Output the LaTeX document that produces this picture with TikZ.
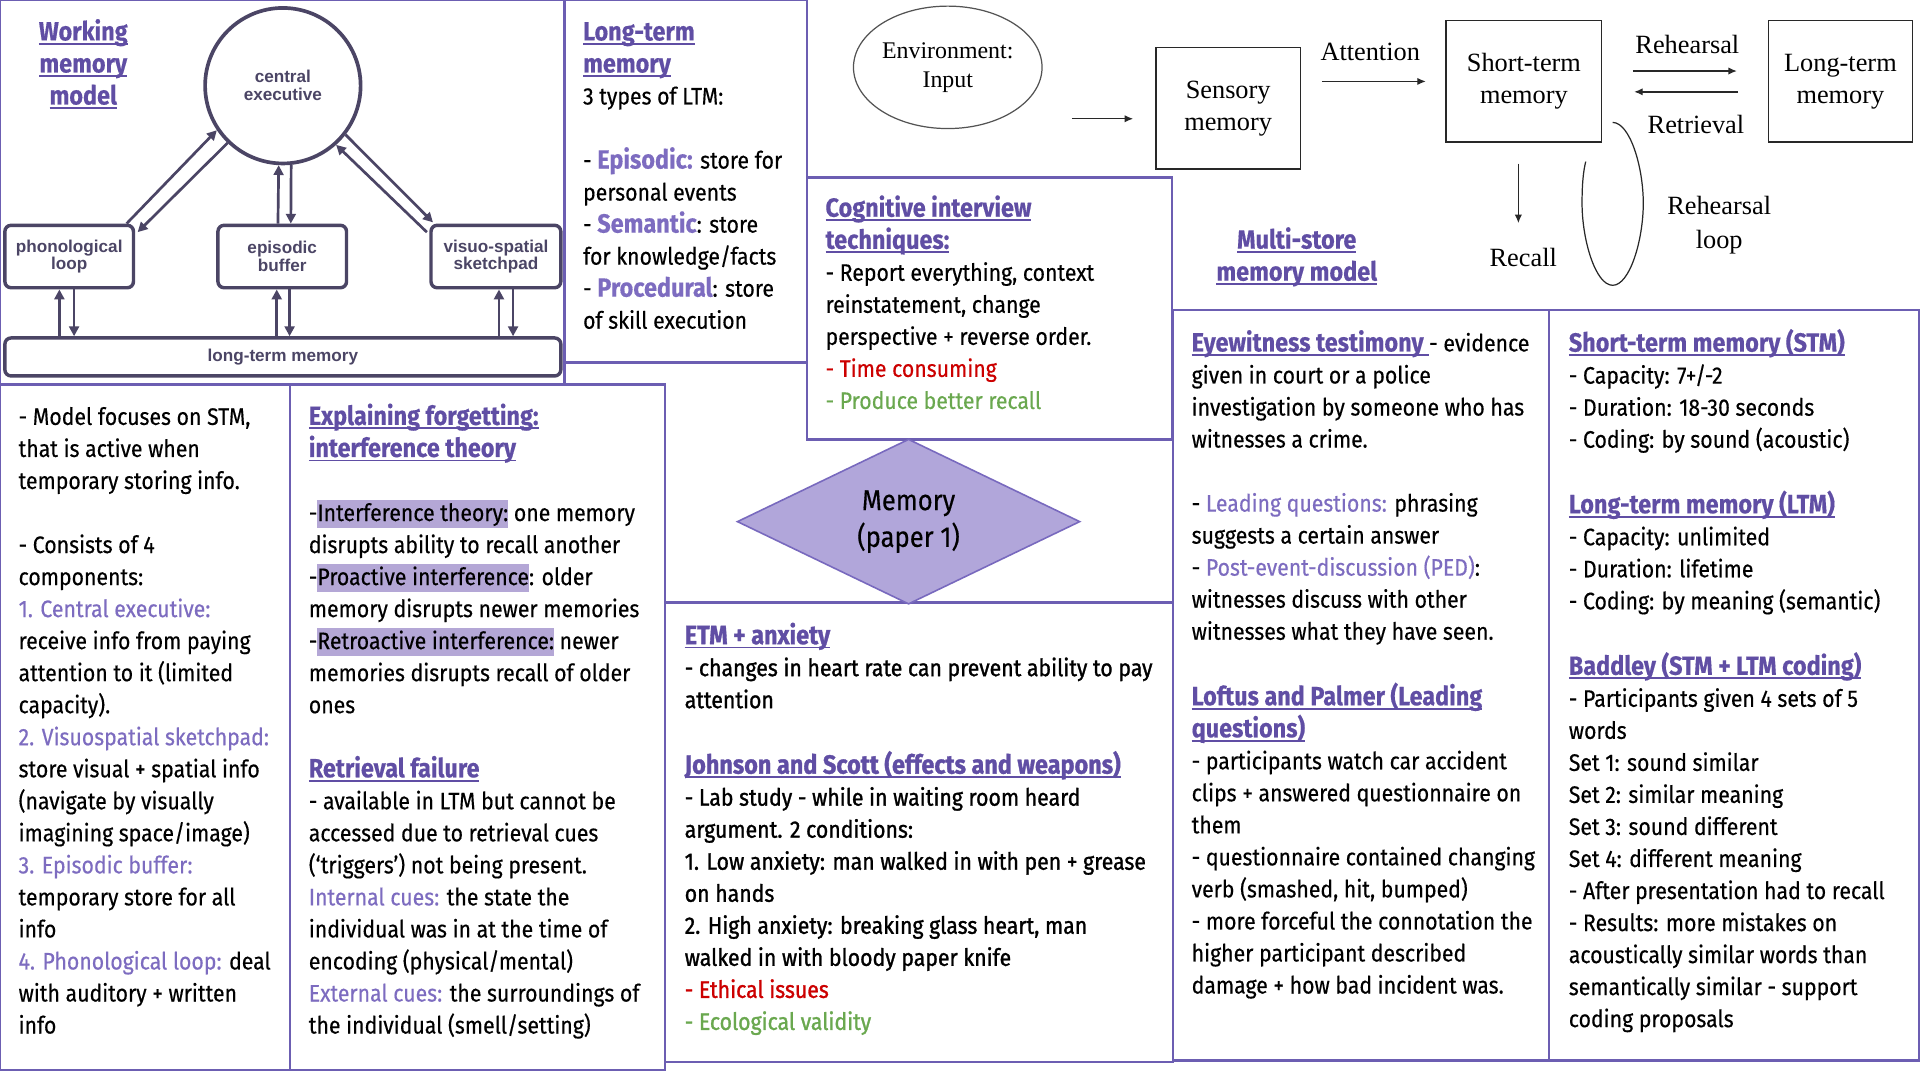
\documentclass[tikz,border=0pt]{standalone}
\usepackage{fontspec}
\setmainfont{Fira Sans}[FakeStretch=0.89,FakeBold=0.4]
\newfontfamily\timesfont{Liberation Serif}
\newfontfamily\wmfont{Liberation Sans}
\newfontfamily\etmfont{Fira Sans}[FakeStretch=0.89,FakeBold=1.2]
\usetikzlibrary{shapes.geometric,arrows.meta,calc}

\definecolor{framec}{RGB}{108,94,178}
\definecolor{headc}{RGB}{96,78,164}
\definecolor{itemc}{RGB}{125,108,192}
\definecolor{hlc}{RGB}{180,167,214}
\definecolor{diafill}{RGB}{177,166,218}
\definecolor{diac}{RGB}{120,105,190}
\definecolor{badc}{RGB}{204,0,0}
\definecolor{goodc}{RGB}{106,168,79}
\definecolor{wmc}{RGB}{75,69,101}
\definecolor{msc}{RGB}{40,40,40}

\newsavebox\ulbox
\newcommand\ulhead[1]{\sbox\ulbox{#1}\rlap{\rule[-3.5pt]{\wd\ulbox}{1.4pt}}\usebox\ulbox}
\newcommand\hdline[1]{{\fontsize{21.5}{26.16}\selectfont\bfseries\color{headc}\ulhead{#1}}}
\newcommand\itm[1]{\textcolor{itemc}{#1}}
\newcommand\itmb[1]{\textcolor{itemc}{\fontsize{21.5}{26.16}\selectfont\bfseries #1}}
\newcommand\badtxt[1]{\textcolor{badc}{#1}}
\newcommand\goodtxt[1]{\textcolor{goodc}{#1}}
\newcommand\hilite[1]{{\setlength{\fboxsep}{0pt}\colorbox{hlc}{\rule[-5.5pt]{0pt}{23pt}#1}}}

\begin{document}
\begin{tikzpicture}[x=1pt,y=1pt,yscale=-1,xscale=1,
    frame/.style={draw=framec, line width=1.8pt},
    boxtext/.style={anchor=north west, inner sep=0pt, align=left, font=\fontsize{19.5}{26.16}\selectfont},
    etmtext/.style={boxtext, font=\etmfont\fontsize{19.5}{26.16}\selectfont},
    wmbox/.style={draw=wmc, line width=2.8pt, rounded corners=5pt, inner sep=0pt, align=center, text=wmc, font=\wmfont\bfseries\fontsize{14}{14.5}\selectfont},
    wmarrow/.style={draw=wmc, line width=2.2pt, -{Triangle[length=8pt,width=8pt]}},
    msbox/.style={draw=msc, line width=1.1pt, inner sep=0pt, align=center, minimum height=99pt, font=\timesfont\fontsize{21.5}{26}\selectfont},
    mslabel/.style={inner sep=0pt, align=center, font=\timesfont\fontsize{21.5}{28}\selectfont},
    msarrow/.style={draw=msc, line width=1.1pt, -{Latex[length=7pt,width=6pt]}},
    memdia/.style={diamond, draw=diac, fill=diafill, line width=1.3pt, minimum width=280pt, minimum height=130pt, inner sep=0pt, align=center, font=\fontsize{23.5}{30}\selectfont}]

\useasboundingbox (0,0) rectangle (1568,882);
\fill[white] (0,0) rectangle (1568,882);

%Shape: Rectangle [frames]
\draw[frame] (0,0) rectangle (461,314);
\draw[frame] (461,0) rectangle (659,296);
\draw[frame] (659,145) rectangle (957,359);
\draw[frame] (0,314) rectangle (237,874);
\draw[frame] (237,314) rectangle (543,874);
\draw[frame] (543,492) rectangle (958,867);
\draw[frame] (958,253) rectangle (1265,866);
\draw[frame] (1265,253) rectangle (1567,866);

% Working memory model
\node[anchor=north, inner sep=0pt, align=center, font=\fontsize{19.5}{26.16}\selectfont] (wmtitle) at (68,14.5) {\strut\hdline{Working}\\\hdline{memory}\\\hdline{model}};
\node[wmbox, circle, line width=3pt, minimum size=127pt] (ce) at (231,70) {central\\executive};
\node[wmbox, minimum width=105pt, minimum height=51pt] (pl) at (56.5,209.5) {phonological\\loop};
\node[wmbox, minimum width=105pt, minimum height=51pt] (eb) at (230.5,209.5) {episodic\\buffer};
\node[wmbox, minimum width=106pt, minimum height=51pt] (vs) at (405,209.5) {visuo-spatial\\sketchpad};
\node[wmbox, minimum width=454pt, minimum height=31pt] (wmltm) at (231,291.5) {long-term memory};

\draw[wmarrow] ($(pl.north east)+(-7,0)$) -- (ce.214);
\draw[wmarrow] (ce.226) -- ($(pl.north east)+(2,7)$);
\draw[wmarrow] ([xshift=-3.5pt]eb.north) -- (ce.267);
\draw[wmarrow] (ce.276) -- ([xshift=7pt]eb.north);
\draw[wmarrow] (ce.322) -- ($(vs.north west)+(3,-1)$);
\draw[wmarrow] ($(vs.north west)+(-2,7)$) -- (ce.312);
\draw[wmarrow] ([xshift=-8pt]pl.south |- wmltm.north) -- ([xshift=-8pt]pl.south);
\draw[wmarrow] ([xshift=4pt]pl.south) -- ([xshift=4pt]pl.south |- wmltm.north);
\draw[wmarrow] ([xshift=-4.5pt]eb.south |- wmltm.north) -- ([xshift=-4.5pt]eb.south);
\draw[wmarrow] ([xshift=6pt]eb.south) -- ([xshift=6pt]eb.south |- wmltm.north);
\draw[wmarrow] ([xshift=2.5pt]vs.south |- wmltm.north) -- ([xshift=2.5pt]vs.south);
\draw[wmarrow] ([xshift=14pt]vs.south) -- ([xshift=14pt]vs.south |- wmltm.north);

% Text Node
\node[boxtext] (ltmtxt) at (476,14.5) {\strut\hdline{Long-term}\\
\hdline{memory}\\
3 types of LTM:\\ \strut\\
- \itmb{Episodic:} store for\\
personal events\\
- \itmb{Semantic}: store\\
for knowledge/facts\\
- \itmb{Procedural}: store\\
of skill execution};

% Multi-store memory model
\node[ellipse, draw=msc!80, line width=1pt, minimum width=154pt, minimum height=100pt, inner sep=0pt, align=center, font=\timesfont\fontsize{19.5}{24}\selectfont] (env) at (774,55) {Environment:\\Input};
\node[msbox, minimum width=118pt] (sm) at (1003,88.5) {Sensory\\memory};
\node[msbox, minimum width=127pt] (stm) at (1244.5,66.5) {Short-term\\memory};
\node[msbox, minimum width=118pt] (lt) at (1503,66.5) {Long-term\\memory};
\node[mslabel] (attn) at (1119,42) {Attention};
\node[mslabel] (reh) at (1378,36) {Rehearsal};
\node[mslabel] (ret) at (1385,102) {Retrieval};
\node[mslabel] (recall) at (1244,210) {Recall};
\node[mslabel] (loop) at (1404,184) {Rehearsal\\loop};
\node[anchor=north, inner sep=0pt, align=center, font=\fontsize{19.5}{26.16}\selectfont] (mstitle) at (1059,184.5) {\strut\hdline{Multi-store}\\\hdline{memory model}};

\draw[msarrow] ($(sm.west)+(-68,8.5)$) -- ($(sm.west)+(-18,8.5)$);
\draw[msarrow] ([xshift=17pt]sm.east |- stm.west) -- ([xshift=-16pt]stm.west);
\draw[msarrow] ($(stm.east)+(25,-8.5)$) -- ($(lt.west)+(-25,-8.5)$);
\draw[msarrow] ($(lt.west)+(-24,8.5)$) -- ($(stm.east)+(26,8.5)$);
\draw[msarrow, shorten <=17pt, shorten >=20pt] ([xshift=-4.5pt]stm.south) -- ([xshift=-4pt]recall.north);
%Shape: Rehearsal loop
\draw[msc, line width=1pt] (1317,100) .. controls (1331,100) and (1342,136) .. (1342,166) .. controls (1342,196) and (1331,233) .. (1317,233) .. controls (1303,233) and (1292,196) .. (1292,166) .. controls (1292,150) and (1293,140) .. (1295,132);

% Text Node
\node[boxtext] (cogtxt) at (674,158.5) {\strut\hdline{Cognitive interview}\\
\hdline{techniques:}\\
- Report everything, context\\
reinstatement, change\\
perspective + reverse order.\\
\badtxt{- Time consuming}\\
\goodtxt{- Produce better recall}};

% Diamond
\node[memdia] (mem) at (742,426) {Memory\\(paper 1)};

% Text Node
\node[boxtext] (modeltxt) at (15,328.5) {\strut - Model focuses on STM,\\
that is active when\\
temporary storing info.\\ \strut\\
- Consists of 4\\
components:\\
\itm{1. Central executive:}\\
receive info from paying\\
attention to it (limited\\
capacity).\\
\itm{2. Visuospatial sketchpad:}\\
store visual + spatial info\\
(navigate by visually\\
imagining space/image)\\
\itm{3. Episodic buffer:}\\
temporary store for all\\
info\\
\itm{4. Phonological loop:} deal\\
with auditory + written\\
info};

% Text Node
\node[boxtext] (forgettxt) at (252,328.5) {\strut\hdline{Explaining forgetting:}\\
\hdline{interference theory}\\ \strut\\
-\hilite{Interference theory:} one memory\\
disrupts ability to recall another\\
-\hilite{Proactive interference}: older\\
memory disrupts newer memories\\
-\hilite{Retroactive interference:} newer\\
memories disrupts recall of older\\
ones\\ \strut\\
\hdline{Retrieval failure}\\
- available in LTM but cannot be\\
accessed due to retrieval cues\\
(‘triggers’) not being present.\\
\itm{Internal cues:} the state the\\
individual was in at the time of\\
encoding (physical/mental)\\
\itm{External cues:} the surroundings of\\
the individual (smell/setting)};

% Text Node
\node[etmtext] (etmtxt) at (559,507.5) {\strut\hdline{ETM + anxiety}\\
- changes in heart rate can prevent ability to pay\\
attention\\ \strut\\
\hdline{Johnson and Scott (effects and weapons)}\\
- Lab study - while in waiting room heard\\
argument. 2 conditions:\\
1. Low anxiety: man walked in with pen + grease\\
on hands\\
2. High anxiety: breaking glass heart, man\\
walked in with bloody paper knife\\
\badtxt{- Ethical issues}\\
\goodtxt{- Ecological validity}};

% Text Node
\node[boxtext] (eyetxt) at (973,268.5) {\strut\hdline{Eyewitness testimony\ }- evidence\\
given in court or a police\\
investigation by someone who has\\
witnesses a crime.\\ \strut\\
- \itm{Leading questions:} phrasing\\
suggests a certain answer\\
- \itm{Post-event-discussion (PED)}:\\
witnesses discuss with other\\
witnesses what they have seen.\\ \strut\\
\hdline{Loftus and Palmer (Leading}\\
\hdline{questions)}\\
- participants watch car accident\\
clips + answered questionnaire on\\
them\\
- questionnaire contained changing\\
verb (smashed, hit, bumped)\\
- more forceful the connotation the\\
higher participant described\\
damage + how bad incident was.};

% Text Node
\node[boxtext] (stmtxt) at (1281,268.5) {\strut\hdline{Short-term memory (STM)}\\
- Capacity: 7+/-2\\
- Duration: 18-30 seconds\\
- Coding: by sound (acoustic)\\ \strut\\
\hdline{Long-term memory (LTM)}\\
- Capacity: unlimited\\
- Duration: lifetime\\
- Coding: by meaning (semantic)\\ \strut\\
\hdline{Baddley (STM + LTM coding)}\\
- Participants given 4 sets of 5\\
words\\
Set 1: sound similar\\
Set 2: similar meaning\\
Set 3: sound different\\
Set 4: different meaning\\
- After presentation had to recall\\
- Results: more mistakes on\\
acoustically similar words than\\
semantically similar - support\\
coding proposals};

\end{tikzpicture}
\end{document}
